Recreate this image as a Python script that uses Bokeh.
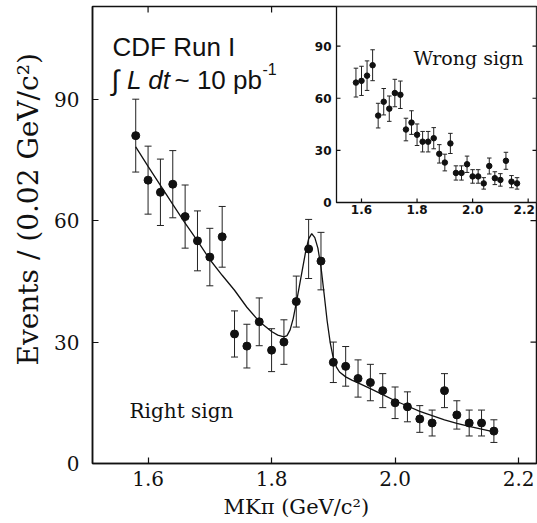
import numpy as np
from bokeh.plotting import figure
from bokeh.models import Range1d, FixedTicker, Label, ColumnDataSource, Title
from bokeh.embed import file_html
from bokeh.resources import INLINE
from bokeh.core.properties import value

# ---------------- data ----------------
mass_bins = [1.58, 1.60, 1.62, 1.64, 1.66, 1.68, 1.70, 1.72, 1.74, 1.76,
             1.78, 1.80, 1.82, 1.84, 1.86, 1.88, 1.90, 1.92, 1.94, 1.96,
             1.98, 2.00, 2.02, 2.04, 2.06, 2.08, 2.10, 2.12, 2.14, 2.16]
right_sign = [81, 70, 67, 69, 61, 55, 51, 56, 32, 29,
              35, 28, 30, 40, 53, 50, 25, 24, 21, 20,
              18, 15, 14, 11, 10, 18, 12, 10, 10, 8]
right_err = [9.0, 8.4, 8.2, 8.3, 7.8, 7.4, 7.1, 7.5, 5.7, 5.4,
             5.9, 5.3, 5.5, 6.3, 7.3, 7.1, 5.0, 4.9, 4.6, 4.5,
             4.2, 3.9, 3.7, 3.3, 3.2, 4.2, 3.5, 3.2, 3.2, 2.8]
wrong_sign = [69, 70, 73, 79, 50, 58, 54, 63, 62, 42,
              46, 39, 35, 35, 37, 28, 23, 34, 17, 17,
              22, 15, 15, 11, 21, 14, 13, 24, 12, 11]
wrong_err = [8.3, 8.4, 8.5, 8.9, 7.1, 7.6, 7.3, 7.9, 7.9, 6.5,
             6.8, 6.2, 5.9, 5.9, 6.1, 5.3, 4.8, 5.8, 4.1, 4.1,
             4.7, 3.9, 3.9, 3.3, 4.6, 3.7, 3.6, 4.9, 3.5, 3.3]
fit_mass = [1.58, 1.60, 1.62, 1.64, 1.66, 1.68, 1.70, 1.72, 1.74, 1.76,
            1.78, 1.80, 1.81, 1.82, 1.825, 1.83, 1.835, 1.84, 1.845, 1.85,
            1.855, 1.86, 1.865, 1.87, 1.875, 1.88, 1.885, 1.89, 1.895, 1.90,
            1.905, 1.91, 1.92, 1.93, 1.94, 1.96, 1.98, 2.00, 2.02, 2.04,
            2.06, 2.08, 2.10, 2.12, 2.14, 2.16]
fit_events = [78.2, 73.4, 68.7, 64.0, 59.4, 55.0, 50.4, 46.5, 42.8, 38.6,
              35.1, 32.6, 31.7, 31.3, 31.6, 33.0, 35.8, 39.7, 43.8, 48.0,
              52.2, 55.5, 56.8, 55.8, 53.2, 48.5, 42.0, 35.2, 29.8, 26.0,
              23.8, 22.6, 21.4, 20.6, 19.9, 18.5, 17.0, 15.5, 14.2, 12.9,
              11.8, 10.8, 9.9, 9.2, 8.5, 7.8]
x_ticks = [1.6, 1.8, 2.0, 2.2]
x_tick_labels = ["1.6", "1.8", "2.0", "2.2"]
y_ticks = [0, 30, 60, 90]
y_tick_labels = ["0", "30", "60", "90"]

# ---------------- layout constants ----------------
W, H = 537, 523
FL, FR, FT, FB = 92, 536, 6, 463          # frame edges in pixels
X_RANGE = (1.51, 2.229)
Y_RANGE = (0.0, 112.9)
INSET_LEFT_PX, INSET_BOTTOM_PX = 336, 202
IX = (1.51, 2.23)
IY = (0.0, 112.8)
SERIF = "DejaVu Serif"
SANS = "Liberation Sans"
INK = "#111111"
px_x = (X_RANGE[1] - X_RANGE[0]) / (FR - FL)   # data units per pixel
px_y = (Y_RANGE[1] - Y_RANGE[0]) / (FB - FT)


def dx(px):
    return X_RANGE[0] + (px - FL) * px_x


def dy(py):
    return Y_RANGE[0] + (FB - py) * px_y


p = figure(width=W, height=H, x_range=Range1d(*X_RANGE), y_range=Range1d(*Y_RANGE),
           output_backend="svg", toolbar_location=None,
           min_border_left=FL, min_border_right=W - FR,
           min_border_top=FT, min_border_bottom=H - FB)
p.grid.visible = False
p.background_fill_color = "white"
p.border_fill_color = "white"
p.outline_line_color = INK
p.outline_line_width = 1.5

# inset ranges mapped over the full frame
ix_per_px = (IX[1] - IX[0]) / (FR - INSET_LEFT_PX)
iy_per_px = (IY[1] - IY[0]) / (INSET_BOTTOM_PX - FT)
p.extra_x_ranges = {"ix": Range1d(IX[1] - ix_per_px * (FR - FL), IX[1])}
p.extra_y_ranges = {"iy": Range1d(IY[1] - iy_per_px * (FB - FT), IY[1])}


def style_axis(ax, ticks, labels):
    ax.ticker = FixedTicker(ticks=ticks)
    ax.major_label_overrides = dict(zip(ticks, labels))
    ax.major_tick_in = 6
    ax.major_tick_out = 0
    ax.minor_tick_in = 0
    ax.minor_tick_out = 0
    ax.axis_line_width = 1.5
    ax.axis_line_color = INK
    ax.major_tick_line_width = 1.2
    ax.major_tick_line_color = INK
    ax.major_label_text_font = SERIF
    ax.major_label_text_font_size = "20px"
    ax.major_label_text_color = INK


xa = p.xaxis[0]
style_axis(xa, x_ticks, x_tick_labels)
xa.major_label_standoff = 7
ya = p.yaxis[0]
style_axis(ya, y_ticks, y_tick_labels)
ya.major_label_standoff = 13

# axis titles as side titles so that they can be shifted like the original
p.add_layout(Title(text="Events / (0.02 GeV/c²)", text_font=SERIF, text_font_size="28px",
                   text_font_style="normal", text_color=INK, align="left", offset=98,
                   vertical_align="top", standoff=10), "left")
p.add_layout(Title(text="MKπ (GeV/c²)", text_font=SERIF, text_font_size="21px",
                   text_font_style="normal", text_color=INK, align="left", offset=131,
                   standoff=8), "below")

# mirrored inward ticks on the top and right frame edges
top_ticks = x_ticks[:2]
p.segment(x0=top_ticks, y0=[Y_RANGE[1]] * len(top_ticks), x1=top_ticks,
          y1=[Y_RANGE[1] - 6 * px_y] * len(top_ticks), line_color=INK, line_width=1.2)
right_ticks = y_ticks[1:3]
p.segment(x0=[X_RANGE[1]] * len(right_ticks), y0=right_ticks, x1=[X_RANGE[1] - 6 * px_x] * len(right_ticks),
          y1=right_ticks, line_color=INK, line_width=1.2)

# ---------------- main (right sign) ----------------
rs = np.array(right_sign, dtype=float)
re = np.array(right_err, dtype=float)
src = ColumnDataSource(dict(x=mass_bins, y=rs, lo=rs - re, hi=rs + re))
p.segment(x0="x", y0="lo", x1="x", y1="hi", source=src, line_color="#222222", line_width=1)
p.scatter("x", "lo", marker="dash", size=7, line_color="#222222", line_width=1, source=src)
p.scatter("x", "hi", marker="dash", size=7, line_color="#222222", line_width=1, source=src)
p.line(fit_mass, fit_events, line_color=INK, line_width=1.3)
p.scatter("x", "y", size=8, fill_color=INK, line_color=INK, source=src)

# ---------------- inset (wrong sign) ----------------
ikw = dict(x_range_name="ix", y_range_name="iy")
p.quad(left=[IX[0]], right=[IX[1]], bottom=[IY[0]], top=[IY[1]], fill_color="white",
       line_color=INK, line_width=1.3, **ikw)
ws = np.array(wrong_sign, dtype=float)
we = np.array(wrong_err, dtype=float)
wsrc = ColumnDataSource(dict(x=mass_bins, y=ws, lo=ws - we, hi=ws + we))
p.segment(x0="x", y0="lo", x1="x", y1="hi", source=wsrc, line_color="#222222", line_width=1, **ikw)
p.scatter("x", "lo", marker="dash", size=4.5, line_color="#222222", line_width=1, source=wsrc, **ikw)
p.scatter("x", "hi", marker="dash", size=4.5, line_color="#222222", line_width=1, source=wsrc, **ikw)
p.scatter("x", "y", size=5.5, fill_color=INK, line_color=INK, source=wsrc, **ikw)

tick_len_x = 4 * ix_per_px
tick_len_y = 4 * iy_per_px
p.segment(x0=x_ticks, y0=[IY[0]] * len(x_ticks), x1=x_ticks, y1=[IY[0] + tick_len_y] * len(x_ticks),
          line_color=INK, line_width=1.2, **ikw)
p.segment(x0=[IX[0]] * len(y_ticks), y0=y_ticks, x1=[IX[0] + tick_len_x] * len(y_ticks), y1=y_ticks,
          line_color=INK, line_width=1.2, **ikw)
p.segment(x0=[IX[1] - tick_len_x] * len(y_ticks), y0=y_ticks, x1=[IX[1]] * len(y_ticks), y1=y_ticks,
          line_color=INK, line_width=1.2, **ikw)
# the last label sits against the frame edge: nudge it inwards so it stays whole
inset_x_label_shift = [0, 0, 0, -4]
p.text(x=x_ticks, y=[IY[0] - 2.5 * iy_per_px] * len(x_ticks), text=x_tick_labels,
       x_offset=inset_x_label_shift,
       text_font=value("DejaVu Sans"), text_font_style="bold", text_font_size="12px",
       text_align="center", text_baseline="top", text_color=INK, **ikw)
p.text(x=[IX[0] - 5 * ix_per_px] * len(y_ticks), y=y_ticks, text=y_tick_labels,
       text_font=value("DejaVu Sans"), text_font_style="bold", text_font_size="12px",
       text_align="right", text_baseline="middle", text_color=INK, **ikw)


# ---------------- texts inside the frame ----------------
def lab(text, px, py, size, font=SERIF, style="normal"):
    p.add_layout(Label(x=dx(px), y=dy(py), text=text, text_font=font, text_font_size=f"{size}px",
                       text_font_style=style, text_align="left", text_baseline="alphabetic",
                       text_color=INK))


lab("CDF Run I", 112, 46.7, 26, font=SANS)
lab("∫", 111, 80, 28, font=SANS)
lab("L dt", 126.5, 79, 26, font=SANS, style="italic")
lab("~ 10 pb", 174, 79, 26, font=SANS)
lab("-1", 262, 68, 16, font=SANS)
lab("Right sign", 129, 410, 20)
lab("Wrong sign", 413, 57, 19)

open("out.html", "w").write(file_html(p, INLINE))
